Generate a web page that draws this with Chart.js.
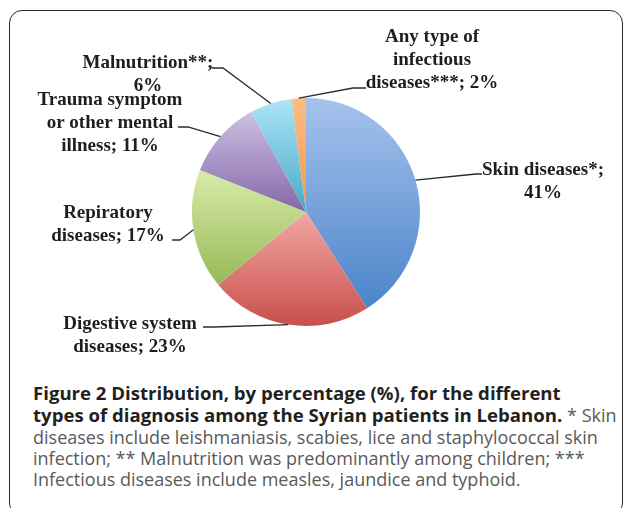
<!DOCTYPE html>
<html>
<head>
<meta charset="utf-8">
<script src="https://cdn.jsdelivr.net/npm/chart.js@4"></script>
<style>
  html, body { margin: 0; padding: 0; background: #fff; }
  body { width: 629px; height: 508px; position: relative; overflow: hidden; }
  #frame {
    position: absolute; left: 9px; top: 10px; width: 614px; height: 506px;
    border: 1.6px solid #2a2a2a; border-radius: 13px; box-sizing: border-box;
  }
  #chart { position: absolute; left: 0; top: 0; }
  #caption {
    position: absolute; left: 33px; top: 382px; white-space: nowrap;
    font-family: 'Open Sans', sans-serif; font-size: 18px; line-height: 21.3px; color: #5a5a5a;
  }
  #caption .b { font-weight: bold; color: #231f20; font-size: 18.6px; }
</style>
</head>
<body>
<div id="frame"></div>
<canvas id="chart" width="629" height="370"></canvas>
<div id="caption">
  <span class="b">Figure 2 Distribution, by percentage (%), for the different</span><br>
  <span class="b">types of diagnosis among the Syrian patients in Lebanon.</span> * Skin<br>
  diseases include leishmaniasis, scabies, lice and staphylococcal skin<br>
  infection; ** Malnutrition was predominantly among children; ***<br>
  Infectious diseases include measles, jaundice and typhoid.
</div>
<script>
const categories = ['Skin diseases*', 'Digestive system diseases', 'Repiratory diseases',
    'Trauma symptom or other mental illness', 'Malnutrition**', 'Any type of infectious diseases***'];
const percentages = [41, 23, 17, 11, 6, 2];

// light (top) and dark (bottom) end of each slice gradient
const topColors = ['#a6c2ec', '#f2a8a4', '#d8eca9', '#cdbfe2', '#ade4f7', '#f9bd82'];
const bottomColors = ['#4a85ca', '#c84f4a', '#97b957', '#8468a9', '#48aac6', '#f5974a'];

// where each label sits and how its leader line runs (from the pie outward)
const labelSpots = [
    { x: 543, y: 170, wrap: 135, leader: [[476, 174], [482, 174]] },
    { x: 130, y: 324, wrap: 150, leader: [[214, 327], [203, 327]] },
    { x: 108, y: 213, wrap: 140, leader: [[180, 240], [172, 240]] },
    { x: 110, y: 100, wrap: 160, leader: [[188, 127], [178, 127]] },
    { x: 148, y: 63, wrap: 135, leader: [[223, 68], [212, 68]] },
    { x: 432, y: 37, wrap: 140, leader: [[353, 88], [366, 88]] }
];

const total = percentages.reduce((a, b) => a + b, 0);

function sliceFill(context) {
    const chart = context.chart;
    const area = chart.chartArea;
    const i = context.dataIndex;
    if (!area || i === undefined) return bottomColors[i] || '#888';
    const cx = (area.left + area.right) / 2;
    const cy = (area.top + area.bottom) / 2;
    const r = Math.min(area.right - area.left, area.bottom - area.top) / 2;
    const before = percentages.slice(0, i).reduce((a, b) => a + b, 0);
    const a0 = before / total * Math.PI * 2;
    const a1 = (before + percentages[i]) / total * Math.PI * 2;
    const ys = [cy, cy - r * Math.cos(a0), cy - r * Math.cos(a1)];
    if (a0 <= 0.0001 || a1 >= Math.PI * 2 - 0.0001) ys.push(cy - r);
    if (a0 < Math.PI && a1 > Math.PI) ys.push(cy + r);
    const g = chart.ctx.createLinearGradient(0, Math.min(...ys), 0, Math.max(...ys));
    g.addColorStop(0, topColors[i]);
    g.addColorStop(1, bottomColors[i]);
    return g;
}

function wrapText(ctx, text, width) {
    const words = text.split(' ');
    const lines = [];
    let line = '';
    words.forEach(w => {
        const test = line ? line + ' ' + w : w;
        if (line && ctx.measureText(test).width > width) {
            lines.push(line);
            line = w;
        } else {
            line = test;
        }
    });
    if (line) lines.push(line);
    return lines;
}

const sliceLabels = {
    id: 'sliceLabels',
    afterDatasetsDraw(chart) {
        const ctx = chart.ctx;
        const meta = chart.getDatasetMeta(0);
        ctx.save();
        ctx.font = 'bold 19px "Liberation Serif", serif';
        ctx.fillStyle = '#1e1e1e';
        ctx.textAlign = 'center';
        ctx.textBaseline = 'middle';
        meta.data.forEach((arc, i) => {
            const spot = labelSpots[i];
            const mid = (arc.startAngle + arc.endAngle) / 2;
            const px = arc.x + Math.cos(mid) * arc.outerRadius;
            const py = arc.y + Math.sin(mid) * arc.outerRadius;
            ctx.strokeStyle = '#2b2b2b';
            ctx.lineWidth = 1.3;
            ctx.beginPath();
            ctx.moveTo(px, py);
            spot.leader.forEach(p => ctx.lineTo(p[0], p[1]));
            ctx.stroke();
            const text = categories[i] + '; ' + percentages[i] + '%';
            wrapText(ctx, text, spot.wrap).forEach((ln, k) => {
                ctx.fillText(ln, spot.x, spot.y + k * 22.8);
            });
        });
        ctx.restore();
    }
};

new Chart(document.getElementById('chart'), {
    type: 'pie',
    data: {
        labels: categories,
        datasets: [{
            data: percentages,
            backgroundColor: sliceFill,
            borderWidth: 0
        }]
    },
    options: {
        responsive: false,
        animation: false,
        layout: { padding: { left: 192, right: 209, top: 98, bottom: 44 } },
        plugins: {
            legend: { display: false },
            tooltip: { enabled: false }
        }
    },
    plugins: [sliceLabels]
});
</script>
</body>
</html>
